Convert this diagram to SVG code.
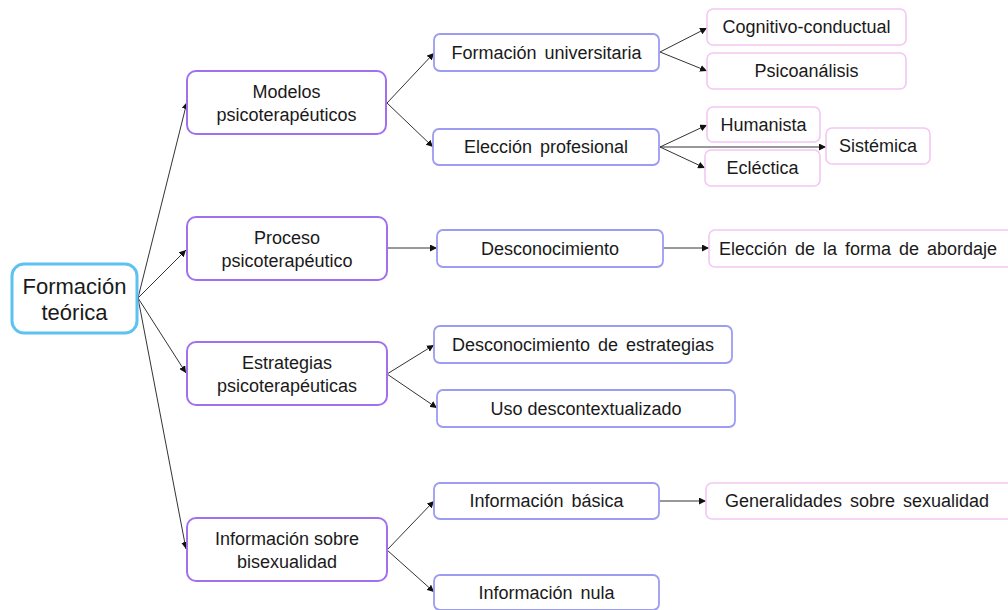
<svg xmlns="http://www.w3.org/2000/svg" width="1008" height="610" viewBox="0 0 1008 610">
<defs>
<marker id="ah" viewBox="0 0 10 10" refX="10" refY="5" markerWidth="7" markerHeight="7" markerUnits="userSpaceOnUse" orient="auto"><path d="M0,0 L10,5 L0,10 z" fill="#111"/></marker>
</defs>
<style>
text{font-family:"Liberation Sans",Arial,sans-serif;font-size:18px;fill:#1a1a1a;text-anchor:middle;dominant-baseline:central}
.root{fill:#fff;stroke:#5cc2f2;stroke-width:3}
.l1{fill:#fff;stroke:#a070f0;stroke-width:2}
.l2{fill:#fff;stroke:#9c9cf2;stroke-width:1.8}
.l3{fill:#fff;stroke:#f4c6f4;stroke-width:1.6}
.c{stroke:#333;stroke-width:1;fill:none;marker-end:url(#ah)}
.big{font-size:22px}
.ws{word-spacing:3px}
</style>
<g id="connectors">
<line class="c" x1="138" y1="298" x2="187" y2="102"/>
<line class="c" x1="138" y1="298" x2="186" y2="250"/>
<line class="c" x1="138" y1="298" x2="186" y2="373"/>
<line class="c" x1="138" y1="298" x2="186" y2="549"/>
<line class="c" x1="387" y1="103" x2="434" y2="53"/>
<line class="c" x1="387" y1="103" x2="433" y2="147"/>
<line class="c" x1="387" y1="248" x2="437" y2="248"/>
<line class="c" x1="387" y1="374" x2="434" y2="345"/>
<line class="c" x1="387" y1="374" x2="437" y2="408"/>
<line class="c" x1="387" y1="550" x2="434" y2="501"/>
<line class="c" x1="387" y1="550" x2="434" y2="592"/>
<line class="c" x1="660" y1="52" x2="707" y2="28"/>
<line class="c" x1="660" y1="52" x2="707" y2="71"/>
<line class="c" x1="660" y1="147" x2="707" y2="125"/>
<line class="c" x1="660" y1="147" x2="826" y2="147"/>
<line class="c" x1="660" y1="147" x2="705" y2="168"/>
<line class="c" x1="663" y1="248" x2="709" y2="248"/>
<line class="c" x1="660" y1="501" x2="706" y2="501"/>
</g>
<g id="n-root"><rect class="root" x="12" y="264" width="125" height="69" rx="12"/><text class="big" x="74.5" y="286">Formación</text><text class="big" x="74.5" y="312">teórica</text></g>
<g id="n-modelos"><rect class="l1" x="187" y="71" width="199" height="63" rx="9"/><text x="286.5" y="92">Modelos</text><text x="286.5" y="115">psicoterapéuticos</text></g>
<g id="n-proceso"><rect class="l1" x="187" y="217" width="200" height="63" rx="9"/><text x="287" y="238">Proceso</text><text x="287" y="261">psicoterapéutico</text></g>
<g id="n-estrategias"><rect class="l1" x="187" y="342" width="200" height="63" rx="9"/><text x="287" y="363">Estrategias</text><text x="287" y="386">psicoterapéuticas</text></g>
<g id="n-info"><rect class="l1" x="187" y="518" width="200" height="63" rx="9"/><text x="287" y="539">Información sobre</text><text x="287" y="562">bisexualidad</text></g>
<g id="n-univ"><rect class="l2" x="434" y="34" width="225" height="37" rx="6"/><text class="ws" x="546.5" y="52.5">Formación universitaria</text></g>
<g id="n-eleccion"><rect class="l2" x="433" y="129" width="226" height="36" rx="6"/><text class="ws" x="546" y="147">Elección profesional</text></g>
<g id="n-descon"><rect class="l2" x="437" y="230" width="226" height="37" rx="6"/><text x="550" y="248.5">Desconocimiento</text></g>
<g id="n-desconest"><rect class="l2" x="434" y="326" width="298" height="37" rx="6"/><text class="ws" x="583" y="344.5">Desconocimiento de estrategias</text></g>
<g id="n-uso"><rect class="l2" x="437" y="390" width="298" height="37" rx="6"/><text x="586" y="408.5">Uso descontextualizado</text></g>
<g id="n-basica"><rect class="l2" x="434" y="483" width="225" height="36" rx="6"/><text class="ws" x="546.5" y="501">Información básica</text></g>
<g id="n-nula"><rect class="l2" x="434" y="575" width="225" height="35" rx="6"/><text class="ws" x="546.5" y="593">Información nula</text></g>
<g id="n-cog"><rect class="l3" x="707" y="9" width="199" height="36" rx="6"/><text x="806.5" y="27">Cognitivo-conductual</text></g>
<g id="n-psico"><rect class="l3" x="707" y="53" width="199" height="36" rx="6"/><text x="806.5" y="71">Psicoanálisis</text></g>
<g id="n-human"><rect class="l3" x="707" y="107" width="113" height="35" rx="6"/><text x="763.5" y="124.5">Humanista</text></g>
<g id="n-eclec"><rect class="l3" x="705" y="150" width="115" height="36" rx="6"/><text x="762.5" y="168">Ecléctica</text></g>
<g id="n-sist"><rect class="l3" x="826" y="128" width="104" height="36" rx="6"/><text x="878" y="146">Sistémica</text></g>
<g id="n-forma"><rect class="l3" x="709" y="230" width="306" height="37" rx="6"/><text class="ws" x="858" y="248.5">Elección de la forma de abordaje</text></g>
<g id="n-gen"><rect class="l3" x="706" y="483" width="309" height="36" rx="6"/><text class="ws" x="857" y="501">Generalidades sobre sexualidad</text></g>
</svg>
